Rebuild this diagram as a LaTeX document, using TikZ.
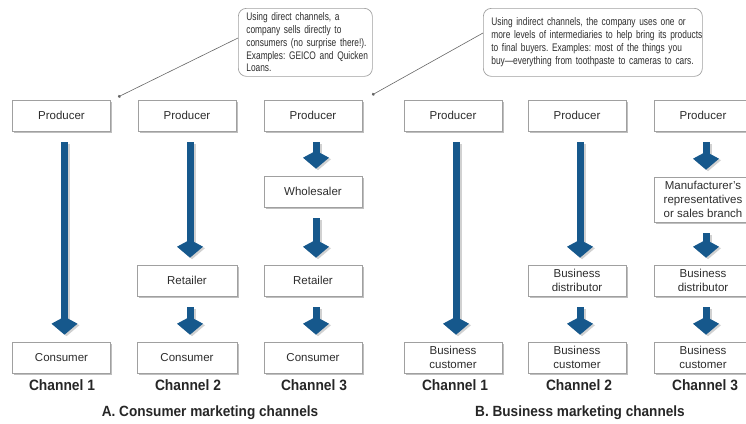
\documentclass[tikz,border=0pt]{standalone}
\usepackage{fontspec}
\setmainfont{Liberation Sans}
\newfontfamily\condfont[FakeStretch=0.76,Ligatures=TeX]{Liberation Sans}
\newfontfamily\labfont[FakeStretch=0.92]{Liberation Sans}
\usetikzlibrary{arrows.meta,shadows}
\definecolor{arrblue}{RGB}{22,88,140}
\definecolor{txt}{RGB}{45,45,45}
\definecolor{bord}{RGB}{160,160,160}
\frenchspacing
\tikzset{
  box/.style={draw=bord, line width=0.6pt, fill=white, minimum width=98pt,
    minimum height=31pt, inner sep=1pt, align=center,
    font=\fontsize{11.5}{14}\selectfont, text=txt,
    drop shadow={shadow xshift=1.5pt, shadow yshift=-2pt, opacity=0.25, fill=black}},
  flow/.style={line width=7pt, draw=arrblue,
    -{Kite[length=18pt,width=26pt,inset=7pt]},
    shorten <=11pt, shorten >=7pt},
  flowsh/.style={line width=7pt, draw=black!18,
    -{Kite[length=18pt,width=26pt,inset=7pt]},
    shorten <=11pt, shorten >=7pt},
  callout/.style={draw=bord, line width=0.7pt, fill=white, rounded corners=8pt,
    anchor=north west, minimum height=68pt, inner xsep=8pt, align=left,
    font=\condfont\fontsize{11}{12.8}\selectfont, text=txt},
  ptr/.style={draw=black!60, line width=0.6pt, -{Circle[length=3pt]}},
  chan/.style={font=\labfont\bfseries\fontsize{15}{17}\selectfont, text=black!85},
  ttl/.style={font=\labfont\bfseries\fontsize{14.8}{17}\selectfont, text=black!85}
}
\newcommand\flowarrow[2]{%
  \draw[flowsh] ([xshift=5pt,yshift=-1.5pt]#1.south) -- ([xshift=5pt,yshift=-1.5pt]#2.north);
  \draw[flow] ([xshift=3pt]#1.south) -- ([xshift=3pt]#2.north);}
\begin{document}
\begin{tikzpicture}[x=1pt,y=-1pt]
\useasboundingbox (0,0) rectangle (746,423);
% callouts
\node[callout, text width=118pt] (c1) at (238,8) {\mbox{Using direct channels, a}\\\mbox{company sells directly to}\\\mbox{consumers (no surprise there!).}\\\mbox{Examples: GEICO and Quicken}\\\mbox{Loans.}};
\node[callout, text width=203pt] (c2) at (483,8) {\mbox{Using indirect channels, the company uses one or}\\\mbox{more levels of intermediaries to help bring its products}\\\mbox{to final buyers. Examples: most of the things you}\\\mbox{buy—everything from toothpaste to cameras to cars.}};
\coordinate (d1) at (118,97);
\coordinate (d2) at (372,95);
\draw[ptr] ([yshift=-30pt]c1.north west) -- (d1);
\draw[ptr] ([yshift=-25pt]c2.north west) -- (d2);
% column 1
\node[box] (p1) at (61.5,115.5) {Producer};
\node[box] (k1) at (61.5,357.5) {Consumer};
% column 2
\node[box] (p2) at (187,115.5) {Producer};
\node[box, minimum width=100pt] (r2) at (187,280.5) {Retailer};
\node[box, minimum width=100pt] (k2) at (187,357.5) {Consumer};
% column 3
\node[box] (p3) at (313,115.5) {Producer};
\node[box] (w3) at (313,191.5) {Wholesaler};
\node[box] (r3) at (313,280.5) {Retailer};
\node[box] (k3) at (313,357.5) {Consumer};
% column 4
\node[box] (p4) at (453,115.5) {Producer};
\node[box] (k4) at (453,357.5) {Business\\customer};
% column 5
\node[box] (p5) at (577,115.5) {Producer};
\node[box] (r5) at (577,280.5) {Business\\distributor};
\node[box] (k5) at (577,357.5) {Business\\customer};
% column 6
\node[box] (p6) at (703,115.5) {Producer};
\node[box, minimum height=45pt] (m6) at (703,199.5) {Manufacturer's\\representatives\\or sales branch};
\node[box] (r6) at (703,280.5) {Business\\distributor};
\node[box] (k6) at (703,357.5) {Business\\customer};
% arrows
\flowarrow{p1}{k1}
\flowarrow{p2}{r2}
\flowarrow{r2}{k2}
\flowarrow{p3}{w3}
\flowarrow{w3}{r3}
\flowarrow{r3}{k3}
\flowarrow{p4}{k4}
\flowarrow{p5}{r5}
\flowarrow{r5}{k5}
\flowarrow{p6}{m6}
\flowarrow{m6}{r6}
\flowarrow{r6}{k6}
% labels
\node[chan] (l1) at (62,385) {Channel 1};
\node[chan] (l2) at (188,385) {Channel 2};
\node[chan] (l3) at (314,385) {Channel 3};
\node[chan] (l4) at (455,385) {Channel 1};
\node[chan] (l5) at (579,385) {Channel 2};
\node[chan] (l6) at (705,385) {Channel 3};
\node[ttl] (ta) at (210,413) {A. Consumer marketing channels};
\node[ttl] (tb) at (580,413) {B. Business marketing channels};
\end{tikzpicture}
\end{document}
